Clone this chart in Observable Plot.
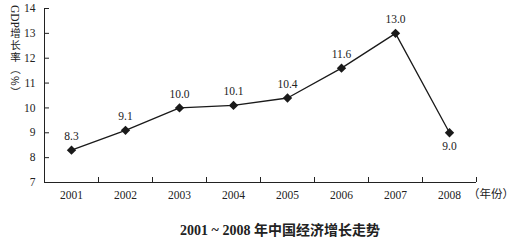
<!DOCTYPE html>
<html><head><meta charset="utf-8">
<script src="https://cdn.jsdelivr.net/npm/d3@7"></script>
<script src="https://cdn.jsdelivr.net/npm/@observablehq/plot@0.6"></script>
<style>
body{margin:0;background:#fff;}
#wrap{position:relative;width:515px;height:249px;overflow:hidden;font-family:"Liberation Serif","Noto Sans CJK SC",serif;color:#222;}
#ytitle{position:absolute;left:8px;top:5px;writing-mode:vertical-rl;text-orientation:mixed;font-size:11.5px;line-height:14px;white-space:nowrap;}
#ytitle .cj{font-family:"Noto Sans CJK SC",sans-serif;font-size:10.5px;letter-spacing:1.5px;}
#xunit{position:absolute;left:468px;top:185px;font-size:11.5px;white-space:nowrap;font-family:"Noto Sans CJK SC",sans-serif;}
#caption{position:absolute;left:0;width:560px;top:219px;text-align:center;font-size:14px;font-weight:bold;white-space:nowrap;}
</style></head>
<body><div id="wrap"><div id="chart"></div>
<div id="ytitle">GDP<span class="cj">增长率（%）</span></div>
<div id="xunit">（年份）</div>
<div id="caption">2001 ~ 2008 年中国经济增长走势</div>
</div>
<script>
const years = [2001, 2002, 2003, 2004, 2005, 2006, 2007, 2008];
const gdp = [8.3, 9.1, 10.0, 10.1, 10.4, 11.6, 13.0, 9.0];
const yTicks = [7, 8, 9, 10, 11, 12, 13, 14];
const data = years.map((y, i) => ({year: y, value: gdp[i]}));
const bounds = years.map(y => y + 0.5);
const lastYear = years[years.length - 1];

const chart = Plot.plot({
  width: 515,
  height: 205,
  marginLeft: 44,
  marginRight: 39,
  marginTop: 8,
  marginBottom: 23,
  style: {fontFamily: "'Liberation Serif', serif", fontSize: "11.5px", color: "#222", background: "white"},
  x: {domain: [years[0] - 0.5, lastYear + 0.5]},
  y: {domain: [yTicks[0], yTicks[yTicks.length - 1]]},
  marks: [
    Plot.axisY({ticks: yTicks, tickSize: 0, tickPadding: 9, label: null, tickFormat: d => d}),
    Plot.axisY({ticks: yTicks, tickSize: -5, tickFormat: () => "", label: null}),
    Plot.axisX({ticks: years, tickSize: 0, tickPadding: 8, label: null, tickFormat: d => String(d)}),
    Plot.axisX({ticks: bounds, tickSize: -5, tickFormat: () => "", label: null}),
    Plot.ruleX([years[0] - 0.5], {stroke: "#222"}),
    Plot.ruleY([yTicks[0]], {stroke: "#222"}),
    Plot.line(data, {x: "year", y: "value", stroke: "#1a1a1a", strokeWidth: 1.3}),
    Plot.dot(data, {x: "year", y: "value", symbol: "diamond2", r: 4.2, fill: "#1a1a1a", stroke: "none"}),
    Plot.text(data.filter(d => d.year !== lastYear), {x: "year", y: "value", text: d => d.value.toFixed(1), dy: -14, fontSize: 11.5, fill: "#222"}),
    Plot.text(data.filter(d => d.year === lastYear), {x: "year", y: "value", text: d => d.value.toFixed(1), dy: 14, fontSize: 11.5, fill: "#222"})
  ]
});
document.getElementById("chart").appendChild(chart);
</script>
</body></html>
